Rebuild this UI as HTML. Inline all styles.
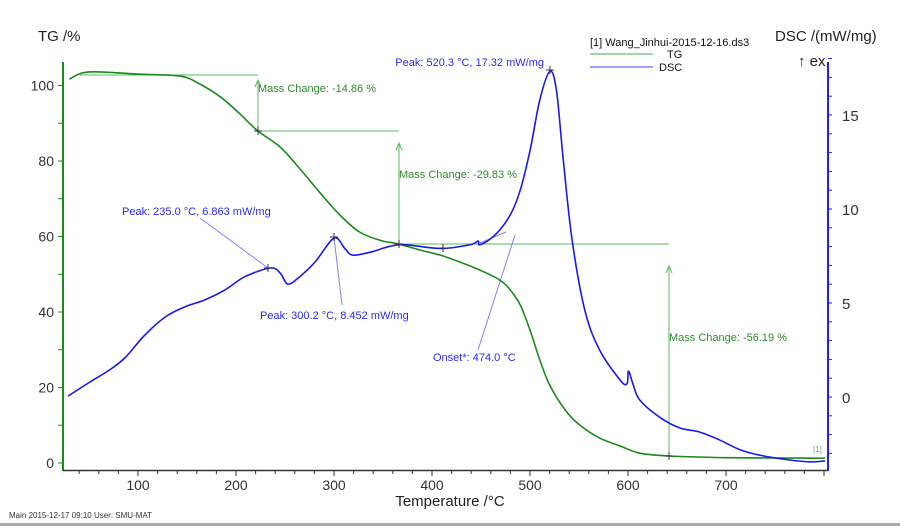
<!DOCTYPE html>
<html><head><meta charset="utf-8"><style>
body{margin:0;background:#fff;width:900px;height:526px;overflow:hidden;font-family:"Liberation Sans",sans-serif}
svg text{font-family:"Liberation Sans",sans-serif}
</style></head><body>
<svg id="c" width="900" height="526" xmlns="http://www.w3.org/2000/svg">
<rect x="0" y="523" width="900" height="3" fill="#aaa"/>
<g id="g"></g>
</svg>
<script>
const xTicks=[100,200,300,400,500,600,700];
const tgTicks=[0,20,40,60,80,100];
const dscTicks=[0,5,10,15];
const tgT=[30,43,61,102,143,163,184,204,222,245,265,285,306,326,347,366,388,408,429,449,469,480,490,500,510,520,536,551,571,592,612,642,673,700,780,801];
const tgV=[101.7,103.3,103.6,103,102.5,100.4,97,92.5,88,83.7,78,71.8,65.7,61.2,59,58,56.4,55.1,53.2,51.1,48.5,45.8,41.9,35.2,27.3,20.7,14,10,6.6,4.5,2.6,1.85,1.6,1.4,1.3,1.3];
const dscT=[28.6,51,71,87,107,128,148,168,189,209,235,245,253,265,281,300,311,319,337,367,408,439,447,449,464,480,490,500,510,520.3,527,534,543,556,571,592,599,600.5,605,612,633,653,673,694,714,735,765,786,801];
const dscV=[0.05,0.8,1.44,2.1,3.3,4.26,4.8,5.16,5.7,6.4,6.86,6.6,6.0,6.4,7.2,8.45,7.9,7.55,7.7,8.1,7.9,8.1,8.3,8.1,8.6,9.7,11.0,13.1,15.8,17.32,16.3,12.6,8.35,4.6,2.5,0.9,0.7,1.38,0.7,-0.16,-1.1,-1.65,-1.86,-2.3,-2.8,-3.1,-3.35,-3.45,-3.4];
const X=t=>138+(t-100)*0.98, YT=v=>463-v*3.775, YD=v=>397-v*18.8;
const g=document.getElementById('g'),NS='http://www.w3.org/2000/svg';
function el(tag,a,txt){const e=document.createElementNS(NS,tag);for(const k in a)e.setAttribute(k,a[k]);if(txt!=null)e.textContent=txt;g.appendChild(e);return e;}
let e;
e=el('line',{x1:63,y1:62,x2:63,y2:471,stroke:'#1a8a1a','stroke-width':2});


e=el('line',{x1:828,y1:62,x2:828,y2:471,stroke:'#2020f0','stroke-width':2});


e=el('line',{x1:63,y1:470.5,x2:828,y2:470.5,stroke:'#333','stroke-width':1.5});


for(let t=40;t<=800;t+=20){const maj=t%100==0;e=el('line',{x1:X(t),y1:471,x2:X(t),y2:maj?476:474,stroke:'#333'});

}
xTicks.forEach(t=>{e=el('text',{x:X(t),y:490,'text-anchor':'middle','font-size':14,fill:'#333'},t);

});
for(let v=0;v<=100;v+=10){e=el('line',{x1:58,y1:YT(v),x2:63,y2:YT(v),stroke:'#1a8a1a'});

}
tgTicks.forEach(v=>{e=el('text',{x:54,y:YT(v)+5,'text-anchor':'end','font-size':14,fill:'#333'},v);

});
for(let v=-3;v<=18;v++){e=el('line',{x1:828,y1:YD(v),x2:832,y2:YD(v),stroke:'#2020f0'});

}
dscTicks.forEach(v=>{e=el('text',{x:842,y:YD(v)+6,'font-size':15,fill:'#333'},v);

});
e=el('text',{x:38,y:41,'font-size':15,fill:'#222'},'TG /%');


e=el('text',{x:775,y:41,'font-size':15,fill:'#222'},'DSC /(mW/mg)');


e=el('text',{x:798,y:66,'font-size':15,fill:'#222'},'↑ ex');


e=el('text',{x:450,y:506,'text-anchor':'middle','font-size':15,fill:'#222'},'Temperature /°C');


e=el('text',{x:9,y:518,'font-size':8,fill:'#333'},'Main   2015-12-17 09:10   User: SMU-MAT');


e=el('text',{x:590,y:46,'font-size':11,fill:'#111'},'[1] Wang_Jinhui-2015-12-16.ds3');


e=el('line',{x1:590,y1:54,x2:653,y2:54,stroke:'#40b040'});


e=el('text',{x:667,y:58,'font-size':11,fill:'#111'},'TG');


e=el('line',{x1:590,y1:67,x2:653,y2:67,stroke:'#4040f0'});


e=el('text',{x:659,y:71,'font-size':11,fill:'#111'},'DSC');


const G='#5cb85c';
function ln(a,b,c,d,col,name){e=el('line',{x1:a,y1:b,x2:c,y2:d,stroke:col,'stroke-width':1});

}
ln(80,75,258,75,G,'mass-step-line');ln(258,131,258,80,G,'mass-step-arrow');ln(258,131,399,131,G,'mass-step-line');
ln(399,244,399,143,G,'mass-step-arrow');ln(399,244,669,244,G,'mass-step-line');ln(669,456,669,266,G,'mass-step-arrow');
[[258,80],[399,143],[669,266]].forEach(p=>{e=el('path',{d:`M${p[0]-3},${p[1]+7}L${p[0]},${p[1]}L${p[0]+3},${p[1]+7}`,fill:'none',stroke:G});

});
[['Mass Change: -14.86 %',258,92],['Mass Change: -29.83 %',399,178],['Mass Change: -56.19 %',669,341]].forEach(a=>{e=el('text',{x:a[1],y:a[2],'font-size':11,fill:'#2e8b2e'},a[0]);

});
const B='#8080f0';
ln(200,218,268,268,B,'peak-leader');ln(334,237,342,305,B,'peak-leader');ln(478,350,515,235,B,'onset-tangent');ln(480,243,506,232,B,'onset-baseline');
[['Peak: 235.0 °C, 6.863 mW/mg',122,215,'start'],['Peak: 300.2 °C, 8.452 mW/mg',260,319,'start'],['Peak: 520.3 °C, 17.32 mW/mg',544,66,'end'],['Onset*: 474.0 °C',433,361,'start']].forEach(a=>{e=el('text',{x:a[1],y:a[2],'font-size':11,fill:'#2a2af0','text-anchor':a[3]},a[0]);

});
function path(T,V,Y,col,name){
  const P=T.map((t,i)=>[X(t),Y(V[i])]);
  let d='M'+P[0][0].toFixed(1)+','+P[0][1].toFixed(1);
  for(let i=0;i<P.length-1;i++){
    const p0=P[Math.max(0,i-1)],p1=P[i],p2=P[i+1],p3=P[Math.min(P.length-1,i+2)];
    const c1=[p1[0]+(p2[0]-p0[0])/6,p1[1]+(p2[1]-p0[1])/6],c2=[p2[0]-(p3[0]-p1[0])/6,p2[1]-(p3[1]-p1[1])/6];
    d+=`C${c1[0].toFixed(1)},${c1[1].toFixed(1)} ${c2[0].toFixed(1)},${c2[1].toFixed(1)} ${p2[0].toFixed(1)},${p2[1].toFixed(1)}`;
  }
  e=el('path',{d:d,fill:'none',stroke:col,'stroke-width':1.6,'stroke-linejoin':'round'});

}
path(tgT,tgV,YT,'#1a8a1a','tg-curve');
path(dscT,dscV,YD,'#1a1ae8','dsc-curve');
[[258,131],[399,244],[669,456],[268,268],[334,237],[443,248],[550,70]].forEach(p=>{e=el('path',{d:`M${p[0]-4},${p[1]}h8M${p[0]},${p[1]-4}v8`,stroke:'#333','stroke-width':1});

});
e=el('text',{x:813,y:452,'font-size':8,fill:'#5a9'},'[1]');


</script>
</body></html>
